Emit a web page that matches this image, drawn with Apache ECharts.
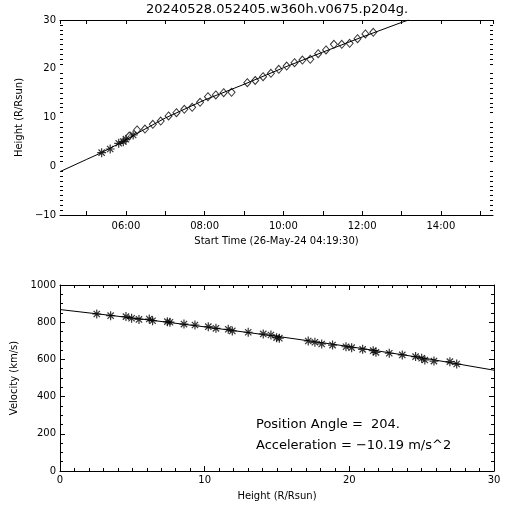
<!DOCTYPE html>
<html><head><meta charset="utf-8">
<script src="https://cdn.jsdelivr.net/npm/echarts@6/dist/echarts.min.js"></script>
<style>html,body{margin:0;padding:0;background:#fff}#c{width:512px;height:512px}</style>
</head><body><div id="c"></div>
<script>
const titleText = '20240528.052405.w360h.v0675.p204g.';
const day = '2024-05-26';
const startTime = '04:19:30';
const endTime = '15:19:30';
// Top panel: height-time data (asterisks = first instrument, diamonds = second)
const c2Times = ['05:23','05:36','05:49','05:56','06:00','06:11'];
const c2Heights = [2.78,3.54,4.71,5.05,5.55,6.41];
const c3Times = ['06:05','06:17','06:29','06:41','06:53','07:05','07:17','07:29','07:41','07:53','08:05','08:17','08:29','08:41','09:05','09:17','09:29','09:41','09:53','10:05','10:17','10:29','10:41','10:53','11:05','11:17','11:29','11:41','11:53','12:05','12:17'];
const c3Heights = [6.2,7.44,7.64,8.61,9.28,10.31,10.98,11.68,12.09,13.12,14.27,14.62,15.09,15.17,17.14,17.59,18.37,19.07,19.89,20.56,21.24,21.79,21.94,23.09,23.85,25.02,25.02,25.22,26.16,27.13,27.48];
const fitTimes = ['04:19:30','05:00','05:23','06:00','06:11','07:00','08:00','09:00','10:00','11:00','12:00','13:00','13:11'];
const fitHeights = [-1.1,1.4,2.8,5.4,6.3,9.9,13.6,16.8,20.2,23.4,26.5,29.5,30.0];
// Bottom panel: velocity-height
const vHeights = [2.54,3.50,4.56,4.95,5.46,6.17,6.40,7.42,7.60,8.57,9.33,10.25,10.78,11.63,11.91,13.01,14.05,14.58,14.97,15.16,17.16,17.62,18.09,18.84,19.77,20.16,20.92,21.65,21.84,22.76,23.66,24.58,25.0,25.22,25.85,26.95,27.42];
const vValues = [844,835,830,821,815,817,808,803,800,790,785,776,767,762,753,746,737,731,717,714,699,692,683,677,668,663,654,647,638,633,624,615,606,597,591,588,575];
const vFitHeights = [0,5,10,15,20,25,30];
const vFitValues = [868,823,775,724,669,609,542];
const heightTicks = {min:-10, max:30, interval:10};
const velTicks = {min:0, max:1000, interval:200};
const rTicks = {min:0, max:30, interval:10};
const paText = 'Position Angle =  204.';
const accText = 'Acceleration = \u221210.19 m/s^2';

const T = s => day + ' ' + (s.length === 5 ? s + ':00' : s);
const font = 'DejaVu Sans';
const pad = n => (n < 10 ? '0' : '') + n;
const timeLabel = v => { const d = new Date(v); if (d.getMinutes() || d.getSeconds() || d.getHours() % 2) return ''; return pad(d.getHours()) + ':00'; };
const numLabel = v => String(v).replace('-', '\u2212');
const black = {color:'#000', width:1};
const lbl = {color:'#000', fontFamily:font, fontSize:10};
const nameStyle = {color:'#000', fontFamily:font, fontSize:10};
const star = 'path://M5,0L5,10M0,5L10,5M1.5,1.5L8.5,8.5M8.5,1.5L1.5,8.5';
const hollow = {color:'rgba(0,0,0,0)', borderColor:'#000', borderWidth:1};
const starStyle = {color:'rgba(0,0,0,0)', borderColor:'#000', borderWidth:1.2};

function timeAxis(top){
  return {gridIndex:0, type:'time', position: top ? 'top' : 'bottom',
    min:T(startTime), max:T(endTime), minInterval:3600000, maxInterval:3600000,
    axisLine:{onZero:false, lineStyle:black},
    axisTick:{inside:true, length:4, lineStyle:black},
    axisLabel: top ? {show:false} : Object.assign({}, lbl, {formatter:timeLabel, margin:6, hideOverlap:false, showMinLabel:false, showMaxLabel:false}),
    splitLine:{show:false},
    name: top ? '' : 'Start Time (26-May-24 04:19:30)', nameLocation:'middle', nameGap:21, nameTextStyle:nameStyle};
}
function valAxis(grid, pos, rng, minorSplit, showLabel, name, nameGap, labelPad){
  return Object.assign({gridIndex:grid, type:'value', position:pos}, rng, {
    axisLine:{onZero:false, lineStyle:black},
    axisTick:{inside:true, length:5, lineStyle:black},
    minorTick:{show:true, splitNumber:minorSplit, length:3, lineStyle:black},
    axisLabel: showLabel ? Object.assign({}, lbl, {formatter:numLabel, margin:4, padding: labelPad || 0}) : {show:false},
    splitLine:{show:false}, minorSplitLine:{show:false},
    name: name || '', nameLocation:'middle', nameGap: nameGap || 20, nameTextStyle:nameStyle});
}

const chart = echarts.init(document.getElementById('c'));
chart.setOption({
  animation:false,
  backgroundColor:'#fff',
  grid:[{left:60, right:19, top:20, height:195}, {left:60, right:18, top:285, height:186}],
  xAxis:[
    timeAxis(false), timeAxis(true),
    valAxis(1, 'bottom', rTicks, 10, true, 'Height (R/Rsun)', 20),
    valAxis(1, 'top', rTicks, 10, false)
  ],
  yAxis:[
    valAxis(0, 'left', heightTicks, 10, true, 'Height (R/Rsun)', 29),
    valAxis(0, 'right', heightTicks, 10, false),
    valAxis(1, 'left', velTicks, 4, true, 'Velocity (km/s)', 33, [0,0,7,0]),
    valAxis(1, 'right', velTicks, 4, false)
  ],
  series:[
    {type:'line', xAxisIndex:0, yAxisIndex:0, showSymbol:false, lineStyle:black, clip:true,
      data: fitTimes.map((t,i) => [T(t), fitHeights[i]])},
    {type:'scatter', xAxisIndex:0, yAxisIndex:0, symbol:star, symbolSize:9, itemStyle:starStyle,
      data: c2Times.map((t,i) => [T(t), c2Heights[i]])},
    {type:'scatter', xAxisIndex:0, yAxisIndex:0, symbol:'diamond', symbolSize:[7,8], itemStyle:hollow,
      data: c3Times.map((t,i) => [T(t), c3Heights[i]])},
    {type:'line', xAxisIndex:2, yAxisIndex:2, showSymbol:false, lineStyle:black, clip:true,
      data: vFitHeights.map((h,i) => [h, vFitValues[i]])},
    {type:'scatter', xAxisIndex:2, yAxisIndex:2, symbol:star, symbolSize:9, itemStyle:starStyle,
      data: vHeights.map((h,i) => [h, vValues[i]])}
  ],
  graphic:[
    {type:'text', x:277, y:10, style:{text:titleText, fill:'#000', font:'13px "DejaVu Sans"', align:'center', verticalAlign:'middle'}},
    {type:'text', x:256, y:425, style:{text:paText, fill:'#000', font:'13px "DejaVu Sans"', align:'left', verticalAlign:'middle'}},
    {type:'text', x:256, y:446, style:{text:accText, fill:'#000', font:'13px "DejaVu Sans"', align:'left', verticalAlign:'middle'}}
  ]
});
</script></body></html>
